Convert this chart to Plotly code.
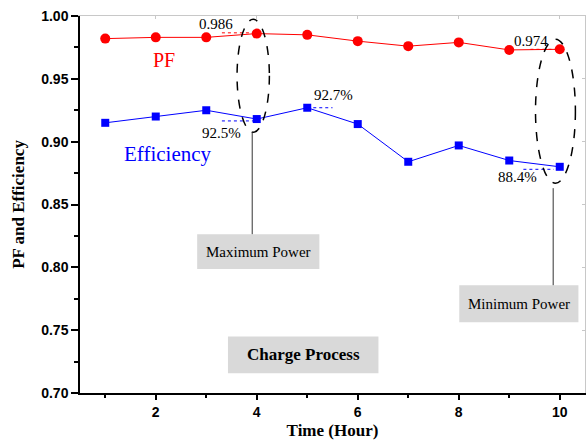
import plotly.graph_objects as go

hours = [1, 2, 3, 4, 5, 6, 7, 8, 9, 10]
pf = [0.982, 0.983, 0.983, 0.986, 0.985, 0.980, 0.976, 0.979, 0.973, 0.9735]
efficiency = [0.915, 0.920, 0.925, 0.918, 0.927, 0.914, 0.884, 0.897, 0.885, 0.880]

x_ticks = [2, 4, 6, 8, 10]
y_ticks = [0.70, 0.75, 0.80, 0.85, 0.90, 0.95, 1.00]
y_tick_labels = ["0.70", "0.75", "0.80", "0.85", "0.90", "0.95", "1.00"]

SERIF = "Liberation Serif, Times New Roman, serif"
SANS = "Liberation Sans, Arial, sans-serif"

fig = go.Figure()
fig.add_trace(go.Scatter(x=hours, y=pf, mode="lines+markers",
                         line=dict(color="#ff0000", width=1),
                         marker=dict(symbol="circle", size=10, color="#ff0000"),
                         showlegend=False))
fig.add_trace(go.Scatter(x=hours, y=efficiency, mode="lines+markers",
                         line=dict(color="#0000ff", width=1),
                         marker=dict(symbol="square", size=8, color="#0000ff"),
                         showlegend=False))
# dummy trace for mirrored gray frame axes
fig.add_trace(go.Scatter(x=[1], y=[0.8], xaxis="x2", yaxis="y2", mode="markers",
                         marker=dict(opacity=0), hoverinfo="skip", showlegend=False))

# dotted reference lines
dotted = [
    (3.31, 4.07, 0.9866, "#ff0000"),
    (3.31, 3.97, 0.9165, "#0000ff"),
    (5.0, 5.5, 0.927, "#0000ff"),
    (9.42, 9.97, 0.9735, "#ff0000"),
    (9.28, 9.88, 0.878, "#0000ff"),
]
for x0, x1, yv, c in dotted:
    fig.add_shape(type="line", xref="x", yref="y", x0=x0, x1=x1, y0=yv, y1=yv,
                  line=dict(color=c, width=1, dash="dot"))

# dashed ellipses
for x0, x1, y0, y1 in [(3.61, 4.25, 0.9075, 0.9974), (9.52, 10.31, 0.867, 0.9815)]:
    fig.add_shape(type="circle", xref="x", yref="y", x0=x0, x1=x1, y0=y0, y1=y1,
                  line=dict(color="black", width=1.5, dash="dash"))

# connector lines
for xv, y0, y1 in [(3.91, 0.9075, 0.8264), (9.87, 0.863, 0.7858)]:
    fig.add_shape(type="line", xref="x", yref="y", x0=xv, x1=xv, y0=y0, y1=y1,
                  line=dict(color="#333333", width=1))

# gray boxes with text
boxes = [
    (2.82, 5.24, 0.7987, 0.8264, "Maximum Power", False, 15),
    (8.01, 10.37, 0.7563, 0.7858, "Minimum Power", False, 15),
    (3.43, 6.41, 0.7158, 0.745, "Charge Process", True, 17),
]
for x0, x1, y0, y1, txt, bold, fs in boxes:
    fig.add_shape(type="rect", xref="x", yref="y", x0=x0, x1=x1, y0=y0, y1=y1,
                  line=dict(width=0), fillcolor="#d9d9d9", layer="below")
    fig.add_annotation(x=(x0 + x1) / 2, y=(y0 + y1) / 2, xref="x", yref="y",
                       text=f"<b>{txt}</b>" if bold else txt, showarrow=False,
                       font=dict(family=SERIF, size=fs, color="black"))

texts = [
    (3.2, 0.9934, "0.986", "black", 15),
    (3.31, 0.9067, "92.5%", "black", 15),
    (5.51, 0.937, "92.7%", "black", 15),
    (9.44, 0.980, "0.974", "black", 15),
    (9.16, 0.8717, "88.4%", "black", 15),
    (2.16, 0.9648, "PF", "#ff0000", 20),
    (2.24, 0.890, "Efficiency", "#0000ff", 21),
]
for xv, yv, t, c, fs in texts:
    fig.add_annotation(x=xv, y=yv, xref="x", yref="y", text=t, showarrow=False,
                       font=dict(family=SERIF, size=fs, color=c))

fig.update_layout(
    width=586, height=442,
    margin=dict(l=80, r=1, t=16, b=49),
    plot_bgcolor="white", paper_bgcolor="white",
    xaxis=dict(range=[0.5, 10.5], tickvals=x_ticks, ticks="outside", ticklen=5,
               tickwidth=1.5, tickcolor="black", showline=True, linecolor="black",
               linewidth=1.5, showgrid=False, zeroline=False, automargin=False,
               minor=dict(tickvals=[1, 3, 5, 7, 9], ticks="outside", ticklen=3,
                          tickcolor="black", tickwidth=1.5),
               tickfont=dict(family=SANS, size=14, color="black", weight="bold"),
               title=dict(text="<b>Time (Hour)</b>", standoff=6,
                          font=dict(family=SERIF, size=17, color="black"))),
    yaxis=dict(range=[0.70, 1.00], tickvals=y_ticks, ticktext=y_tick_labels,
               ticks="outside", ticklen=7, tickwidth=1.5, tickcolor="black",
               showline=True, linecolor="black", linewidth=1.5, showgrid=False,
               zeroline=False, automargin=False,
               minor=dict(tickvals=[0.725, 0.775, 0.825, 0.875, 0.925, 0.975],
                          ticks="outside", ticklen=4, tickcolor="black", tickwidth=1.5),
               tickfont=dict(family=SANS, size=14, color="black", weight="bold"),
               title=dict(text="<b>PF and Efficiency</b>", standoff=12,
                          font=dict(family=SERIF, size=17, color="black"))),
    xaxis2=dict(overlaying="x", side="top", range=[0.5, 10.5], tickvals=x_ticks,
                ticks="inside", ticklen=3, tickcolor="#c8c8c8", showline=True,
                linecolor="#c8c8c8", linewidth=1, showticklabels=False,
                showgrid=False, zeroline=False, automargin=False),
    yaxis2=dict(overlaying="y", side="right", range=[0.70, 1.00], tickvals=y_ticks,
                ticks="inside", ticklen=3, tickcolor="#c8c8c8", showline=True,
                linecolor="#c8c8c8", linewidth=1, showticklabels=False,
                showgrid=False, zeroline=False, automargin=False),
)

fig.write_html("out.html", config={"displayModeBar": False},
               post_script="document.body.style.margin='0';")
